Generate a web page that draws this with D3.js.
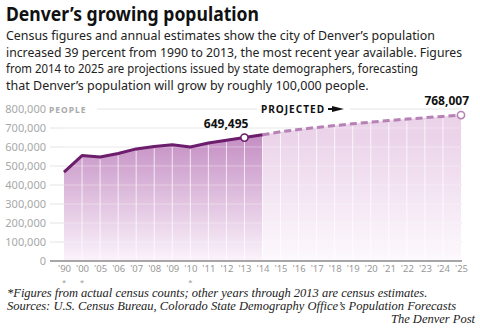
<!DOCTYPE html>
<html><head><meta charset="utf-8">
<script src="https://cdn.jsdelivr.net/npm/d3@7"></script>
<style>body{margin:0;background:#fff}svg{display:block}</style>
</head><body><svg id="c" width="480" height="332"></svg>
<script>
const categories = ["'90","'00","'05","'06","'07","'08","'09","'10","'11","'12","'13","'14","'15","'16","'17","'18","'19","'20","'21","'22","'23","'24","'25"];
const censusYears = ["'90","'00","'10"];
const population = [467610,554636,547000,566000,590000,603000,612000,600158,621000,636000,649495,664000,680000,692000,703000,713000,722000,731000,739000,747000,754000,761000,768007];
const lastActual = "'14";
const yTicks = [0,100000,200000,300000,400000,500000,600000,700000,800000];
const labelled = ["'13","'25"];
const title = "Denver\u2019s growing population";
const intro = ["Census figures and annual estimates show the city of Denver\u2019s population",
"increased 39 percent from 1990 to 2013, the most recent year available. Figures",
"from 2014 to 2025 are projections issued by state demographers, forecasting",
"that Denver\u2019s population will grow by roughly 100,000 people."];
const notes = ["*Figures from actual census counts; other years through 2013 are census estimates.",
"Sources: U.S. Census Bureau, Colorado State Demography Office\u2019s Population Forecasts"];
const credit = "The Denver Post";

const svg = d3.select("#c");
const x = d3.scalePoint().domain(categories).range([64, 461]);
const y = d3.scaleLinear().domain([0, 800000]).range([261, 109]);
const data = categories.map((c,i)=>({c, v: population[i]}));
const cut = categories.indexOf(lastActual);
const hist = data.slice(0, cut+1), proj = data.slice(cut);

const sans = "'Noto Sans', 'Open Sans', sans-serif";
function fit(sel, target){
  sel.each(function(){ const w=this.getComputedTextLength(); if(Math.abs(w-target)>2) d3.select(this).attr("textLength",target).attr("lengthAdjust","spacingAndGlyphs"); });
}
const defs = svg.append("defs");
function grad(id, top, bot){
  const g = defs.append("linearGradient").attr("id", id).attr("gradientUnits","userSpaceOnUse")
    .attr("x1",0).attr("x2",0).attr("y1",y(660000)).attr("y2",y(0));
  g.append("stop").attr("offset",0).attr("stop-color",top);
  g.append("stop").attr("offset",1).attr("stop-color",bot);
}
grad("gh", "#c48ec3", "#fbf3fb");
grad("gp", "#ebd3ea", "#fdf9fd");

// title & intro
fit(svg.append("text").attr("x",6).attr("y",21).attr("font-family",sans).attr("font-weight",700)
  .attr("font-size",20).attr("fill","#111").text(title), 253);
const introW = [429, 456, 412, 364];
intro.forEach((t,i)=>{
  fit(svg.append("text").attr("x",6).attr("y",40+i*16.5).attr("font-family",sans).attr("font-size",12.5)
    .attr("fill","#222").text(t), introW[i]);
});

// gridlines
const gl = svg.append("g");
yTicks.filter(t=>t>0 && t<800000).forEach(t=>{
  gl.append("line").attr("x1",50).attr("x2",462).attr("y1",y(t)).attr("y2",y(t)).attr("stroke","#e4e4e4");
});
[[97,257],[350,462]].forEach(([a,b])=>gl.append("line").attr("x1",a).attr("x2",b).attr("y1",y(800000)).attr("y2",y(800000)).attr("stroke","#e4e4e4"));

// areas
const area = d3.area().x(d=>x(d.c)).y0(y(0)).y1(d=>y(d.v));
svg.append("path").datum(proj).attr("d",area).attr("fill","url(#gp)");
svg.append("path").datum(hist).attr("d",area).attr("fill","url(#gh)");

// white verticals & faint horizontals inside area
const wl = svg.append("g");
data.forEach(d=>{
  if (d.c===categories[0] || d.c===categories[categories.length-1]) return;
  wl.append("line").attr("x1",x(d.c)).attr("x2",x(d.c)).attr("y1",y(d.v)+2).attr("y2",y(0))
    .attr("stroke","#fff").attr("stroke-opacity",0.75).attr("stroke-width",1);
});
yTicks.filter(t=>t>0 && t<800000).forEach(t=>{
  wl.append("line").attr("x1",x(categories[0])).attr("x2",x(categories[categories.length-1])).attr("y1",y(t)).attr("y2",y(t))
    .attr("stroke","#fff").attr("stroke-opacity",0.35);
});

// lines
const line = d3.line().x(d=>x(d.c)).y(d=>y(d.v));
svg.append("path").datum(proj).attr("d",line).attr("fill","none").attr("stroke","#b681b4")
  .attr("stroke-width",3).attr("stroke-dasharray","7,4");
svg.append("path").datum(hist).attr("d",line).attr("fill","none").attr("stroke","#6c1d6c")
  .attr("stroke-width",3).attr("stroke-linejoin","round");

// markers and labels
labelled.forEach((c,i)=>{
  const d = data.find(e=>e.c===c);
  svg.append("circle").attr("cx",x(c)).attr("cy",y(d.v)).attr("r",3.6).attr("fill","#fff")
    .attr("stroke", i===0 ? "#6c1d6c" : "#b681b4").attr("stroke-width",1.6);
  svg.append("text").attr("x", i===0 ? x(c)+4 : x(c)+8).attr("y", y(d.v)-10)
    .attr("text-anchor","end").attr("font-family",sans).attr("font-weight",700).attr("font-size",12)
    .attr("fill","#111").text(d3.format(",")(d.v));
});

// projected label
const pj = svg.append("g").attr("transform",`translate(261,${y(800000)})`);
fit(pj.append("text").attr("y",4).attr("font-family",sans).attr("font-weight",700).attr("font-size",10.5)
  .attr("letter-spacing",1).attr("fill","#111").text("PROJECTED"), 64);
pj.append("path").attr("d","M71,-3 L83,0 L71,3 Z M67,-1 L71,-1 L71,1 L67,1 Z").attr("fill","#111");

// y axis
const ya = svg.append("g").attr("transform","translate(46,0)")
  .call(d3.axisLeft(y).tickValues(yTicks).tickFormat(d3.format(",")).tickSize(0).tickPadding(0));
ya.select(".domain").remove();
ya.selectAll("text").attr("font-family",sans).attr("font-size",11).attr("fill","#a8a8a8");
svg.append("text").attr("x",49).attr("y",y(800000)+3.5).attr("font-family",sans).attr("font-weight",700)
  .attr("font-size",8.5).attr("letter-spacing",1).attr("fill","#aaa").text("PEOPLE");

// x axis
const xa = svg.append("g").attr("transform",`translate(0,${y(0)})`)
  .call(d3.axisBottom(x).tickSize(0).tickPadding(4));
xa.select(".domain").attr("d","M50,0H462").attr("stroke","#8a8a8a").attr("stroke-width",1.5);
xa.selectAll("text").attr("font-family",sans).attr("font-size",9.5).attr("fill","#999");
censusYears.forEach(c=>{
  svg.append("text").attr("x",x(c)).attr("y",285).attr("text-anchor","middle").attr("font-family",sans)
    .attr("font-size",7.5).attr("fill","#999").text("*");
});

// notes
const serif = "'Liberation Serif','DejaVu Serif',serif";
const notesW = [421, 450];
notes.forEach((t,i)=>{
  fit(svg.append("text").attr("x",7).attr("y",297+i*13).attr("font-family",serif).attr("font-style","italic")
    .attr("font-size",12.5).attr("fill","#222").text(t), notesW[i]);
});
svg.append("text").attr("x",475).attr("y",323).attr("text-anchor","end").attr("font-family",serif)
  .attr("font-style","italic").attr("font-size",12.5).attr("fill","#222").text(credit);
</script></body></html>
